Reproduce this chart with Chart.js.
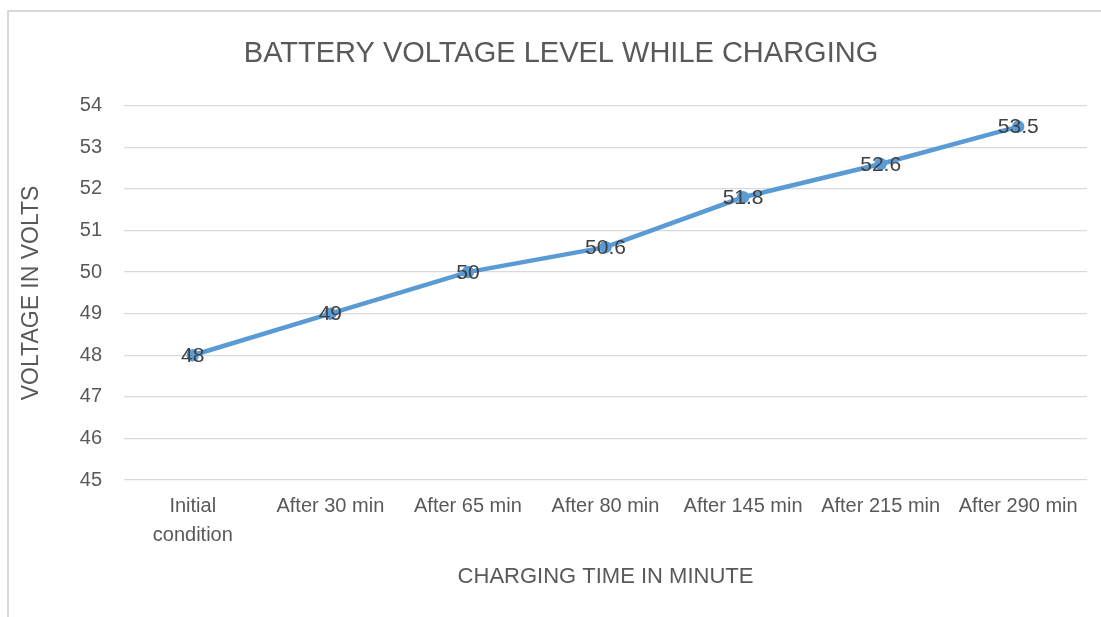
<!DOCTYPE html>
<html>
<head>
<meta charset="utf-8">
<script src="https://cdn.jsdelivr.net/npm/chart.js@4.4.1/dist/chart.umd.min.js"></script>
<style>
  html, body { margin: 0; padding: 0; background: #fff; overflow: hidden; }
  #frame { position: absolute; left: 7px; top: 10px; width: 1200px; height: 700px; border-left: 2px solid #d9d9d9; border-top: 2px solid #d9d9d9; }
  #wrap { position: absolute; left: 0; top: 0; width: 1122px; height: 617px; }
</style>
</head>
<body>
<div id="frame"></div>
<div id="wrap"><canvas id="voltage-chart" width="1122" height="617"></canvas></div>
<script>
    // Charging time categories
    const times = [['Initial', 'condition'], 'After 30 min', 'After 65 min', 'After 80 min', 'After 145 min', 'After 215 min', 'After 290 min'];
    // Battery voltage readings (V)
    const voltages = [48, 49, 50, 50.6, 51.8, 52.6, 53.5];
    // Y axis range
    const yMin = 45;
    const yMax = 54;

    const font = "'Liberation Sans', Arial, sans-serif";

    // Draw value labels centred on every point
    const pointLabels = {
        id: 'pointLabels',
        afterLayout(chart) {
            // centre the title on the whole frame, not just the padded area
            if (chart.titleBlock) chart.titleBlock.right = chart.width;
        },
        afterDatasetsDraw(chart) {
            const ctx = chart.ctx;
            const meta = chart.getDatasetMeta(0);
            ctx.save();
            ctx.font = '21px ' + font;
            ctx.fillStyle = '#404040';
            ctx.textAlign = 'center';
            ctx.textBaseline = 'middle';
            meta.data.forEach((pt, i) => {
                ctx.fillText(String(voltages[i]), pt.x, pt.y + 1);
            });
            ctx.restore();
        }
    };

    const ctx = document.getElementById('voltage-chart').getContext('2d');
    new Chart(ctx, {
        type: 'line',
        data: {
            labels: times,
            datasets: [{
                label: 'Voltage',
                data: voltages,
                borderColor: '#5b9bd5',
                backgroundColor: '#5b9bd5',
                borderWidth: 4.5,
                pointRadius: 4,
                pointHoverRadius: 4,
                tension: 0
            }]
        },
        options: {
            responsive: false,
            animation: false,
            layout: { padding: { left: 0, right: 35, top: 0, bottom: 0 } },
            plugins: {
                legend: { display: false },
                tooltip: { enabled: false },
                title: {
                    display: true,
                    text: 'BATTERY VOLTAGE LEVEL WHILE CHARGING',
                    color: '#595959',
                    font: { family: font, size: 29, weight: 'normal' },
                    padding: { top: 37, bottom: 34 }
                }
            },
            scales: {
                x: {
                    offset: true,
                    grid: { display: false, drawTicks: false, offset: true },
                    border: { display: false },
                    ticks: {
                        color: '#595959',
                        font: { family: font, size: 20, lineHeight: 1.45 },
                        padding: 12,
                        maxRotation: 0,
                        autoSkip: false
                    },
                    title: {
                        display: true,
                        text: 'CHARGING TIME IN MINUTE',
                        color: '#595959',
                        font: { family: font, size: 22 },
                        padding: { top: 0, bottom: 27 }
                    },
                    afterFit(scale) { scale.height = 137; }
                },
                y: {
                    min: yMin,
                    max: yMax,
                    grid: { color: '#d9d9d9', lineWidth: 1.3, drawTicks: false },
                    border: { display: false },
                    ticks: {
                        stepSize: 1,
                        color: '#595959',
                        font: { family: font, size: 20 },
                        padding: 22
                    },
                    title: {
                        display: true,
                        text: 'VOLTAGE IN VOLTS',
                        color: '#595959',
                        font: { family: font, size: 23 },
                        padding: { top: 18, bottom: 0 }
                    },
                    afterFit(scale) { scale.width = 124; }
                }
            }
        },
        plugins: [pointLabels]
    });
</script>
</body>
</html>
